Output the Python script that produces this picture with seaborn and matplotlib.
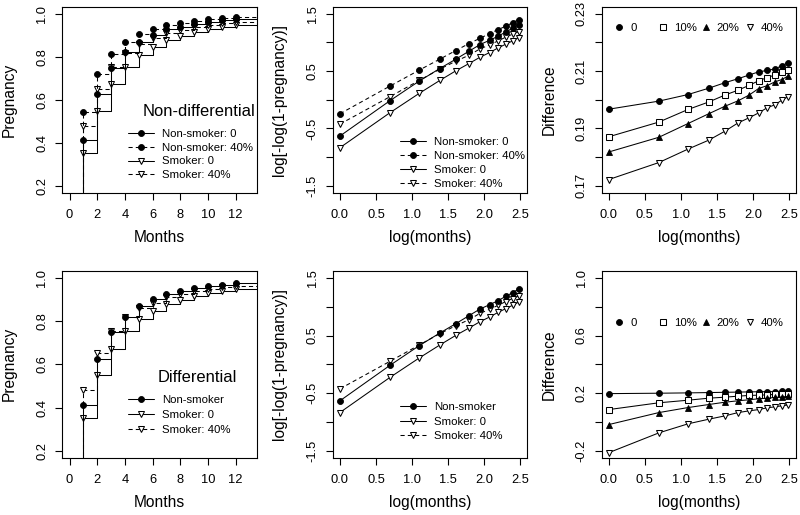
import matplotlib
matplotlib.use("Agg")
import matplotlib.pyplot as plt
import seaborn as sns
import numpy as np
from matplotlib.lines import Line2D

# ---------------- data ----------------
months = [0, 1, 2, 3, 4, 5, 6, 7, 8, 9, 10, 11, 12]
preg_nonsmoker_0 = [0.0, 0.412, 0.625, 0.749, 0.821, 0.868, 0.902, 0.927, 0.940, 0.951, 0.961, 0.969, 0.975]
preg_nonsmoker_40 = [0.0, 0.543, 0.718, 0.812, 0.868, 0.905, 0.930, 0.946, 0.958, 0.966, 0.973, 0.978, 0.982]
preg_smoker_0 = [0.0, 0.352, 0.549, 0.672, 0.753, 0.809, 0.847, 0.877, 0.897, 0.915, 0.928, 0.938, 0.948]
preg_smoker_40 = [0.0, 0.480, 0.651, 0.753, 0.818, 0.859, 0.886, 0.911, 0.926, 0.938, 0.949, 0.956, 0.962]

log_months = [0.0, 0.693, 1.099, 1.386, 1.609, 1.792, 1.946, 2.079, 2.197, 2.303, 2.398, 2.485]
cll_nonsmoker_0 = [-0.633, -0.019, 0.323, 0.543, 0.706, 0.845, 0.961, 1.036, 1.106, 1.181, 1.245, 1.309]
cll_nonsmoker_40 = [-0.245, 0.236, 0.514, 0.706, 0.857, 0.978, 1.071, 1.152, 1.222, 1.280, 1.343, 1.396]
cll_smoker_0 = [-0.836, -0.228, 0.109, 0.335, 0.503, 0.630, 0.741, 0.822, 0.903, 0.967, 1.025, 1.083]
cll_smoker_40 = [-0.425, 0.051, 0.335, 0.532, 0.671, 0.775, 0.886, 0.955, 1.025, 1.090, 1.142, 1.187]

diff_nd_0 = [0.1967, 0.1995, 0.2018, 0.2040, 0.2059, 0.2073, 0.2086, 0.2097, 0.2102, 0.2107, 0.2118, 0.2129]
diff_nd_10 = [0.1871, 0.1922, 0.1966, 0.1992, 0.2016, 0.2033, 0.2050, 0.2066, 0.2077, 0.2086, 0.2095, 0.2105]
diff_nd_20 = [0.1818, 0.1869, 0.1917, 0.1951, 0.1977, 0.1996, 0.2016, 0.2039, 0.2049, 0.2062, 0.2070, 0.2082]
diff_nd_40 = [0.1722, 0.1781, 0.1828, 0.1859, 0.1890, 0.1919, 0.1937, 0.1954, 0.1972, 0.1982, 0.1998, 0.2010]

diff_d_0 = [0.1967, 0.1995, 0.2018, 0.2040, 0.2059, 0.2073, 0.2086, 0.2097, 0.2102, 0.2107, 0.2118, 0.2129]
diff_d_10 = [0.086, 0.133, 0.151, 0.165, 0.172, 0.179, 0.184, 0.186, 0.188, 0.191, 0.193, 0.195]
diff_d_20 = [-0.018, 0.065, 0.100, 0.121, 0.137, 0.147, 0.154, 0.161, 0.165, 0.170, 0.174, 0.177]
diff_d_40 = [-0.213, -0.076, -0.013, 0.019, 0.042, 0.065, 0.077, 0.086, 0.098, 0.105, 0.112, 0.118]

month_ticks = [0, 2, 4, 6, 8, 10, 12]
preg_ticks = [0.2, 0.4, 0.6, 0.8, 1.0]
preg_ticklabels = ["0.2", "0.4", "0.6", "0.8", "1.0"]
logm_ticks = [0.0, 0.5, 1.0, 1.5, 2.0, 2.5]
logm_ticklabels = ["0.0", "0.5", "1.0", "1.5", "2.0", "2.5"]
cll_ticks = [-1.5, -1.0, -0.5, 0.0, 0.5, 1.0, 1.5]
cll_ticklabels = ["-1.5", "", "-0.5", "", "0.5", "", "1.5"]
dnd_ticks = [0.17, 0.18, 0.19, 0.20, 0.21, 0.22, 0.23]
dnd_ticklabels = ["0.17", "", "0.19", "", "0.21", "", "0.23"]
dd_ticks = [-0.2, 0.0, 0.2, 0.4, 0.6, 0.8, 1.0]
dd_ticklabels = ["-0.2", "", "0.2", "", "0.6", "", "1.0"]

# ---------------- style ----------------
sns.set_theme(style="ticks")
plt.rcParams["font.family"] = ["Liberation Sans", "DejaVu Sans"]
plt.rcParams["axes.edgecolor"] = "black"
plt.rcParams["axes.linewidth"] = 0.8
plt.rcParams["xtick.color"] = "black"
plt.rcParams["ytick.color"] = "black"
plt.rcParams["text.color"] = "black"
plt.rcParams["axes.labelcolor"] = "black"

LW = 0.75
DASH = (0, (4, 3))
TICK_FS = 9.3
LAB_FS = 11.2
LEG_FS = 8.2

fig = plt.figure(figsize=(8, 5.15), dpi=100)
lefts = [0.0779, 0.4159, 0.7521]
W = 0.2431
rows = [(0.6258, 0.3612), (0.1113, 0.3625)]
axes = [[fig.add_axes([l, b, W, h]) for l in lefts] for (b, h) in rows]


def style(ax, xlim, ylim, xt, xtl, yt, ytl, xlabel, ylabel):
    ax.set_xlim(*xlim)
    ax.set_ylim(*ylim)
    ax.set_xticks(xt)
    ax.set_xticklabels(xtl, fontsize=TICK_FS)
    ax.set_yticks(yt)
    ax.set_yticklabels(ytl, fontsize=TICK_FS)
    for t in ax.get_yticklabels():
        t.set_rotation(90)
        t.set_va("center")
    ax.tick_params(axis="both", direction="out", length=5, width=0.8)
    ax.tick_params(axis="x", pad=6.5)
    ax.tick_params(axis="y", pad=5)
    ax.set_xlabel(xlabel, fontsize=LAB_FS, labelpad=7)
    ax.set_ylabel(ylabel, fontsize=LAB_FS, labelpad=14)
    for s in ax.spines.values():
        s.set_visible(True)
        s.set_color("black")
        s.set_linewidth(0.8)


def kind_kw(kind):
    if kind == "dot":
        return dict(marker="o", markersize=4.3, markerfacecolor="black",
                    markeredgecolor="black", markeredgewidth=0.6)
    if kind == "tri":
        return dict(marker="v", markersize=5.0, markerfacecolor="white",
                    markeredgecolor="black", markeredgewidth=0.75)
    if kind == "sq":
        return dict(marker="s", markersize=3.8, markerfacecolor="white",
                    markeredgecolor="black", markeredgewidth=0.75)
    if kind == "tri_up":
        return dict(marker="^", markersize=4.6, markerfacecolor="black",
                    markeredgecolor="black", markeredgewidth=0.6)


def step_panel(ax, series, xlim):
    x_end = xlim[1] + 1
    for vals, ls, kind in series:
        xs = months + [x_end]
        ys = vals + [vals[-1]]
        sns.lineplot(x=xs, y=ys, ax=ax, color="black", linewidth=LW,
                     linestyle=ls, drawstyle="steps-post", sort=False,
                     estimator=None)
        k = kind_kw(kind)
        ax.plot(months[1:], vals[1:], linestyle="none", **k)


def line_panel(ax, series):
    for vals, ls, kind in series:
        k = kind_kw(kind)
        sns.lineplot(x=log_months, y=vals, ax=ax, color="black", linewidth=LW,
                     linestyle=ls, sort=False, estimator=None, **k)


def legend_lines(ax, entries, xf, yf, spacing):
    handles = []
    labels = []
    for lab, ls, kind in entries:
        handles.append(Line2D([], [], color="black", linewidth=LW, linestyle=ls, **kind_kw(kind)))
        labels.append(lab)
    ax.legend(handles, labels, loc="center left", bbox_to_anchor=(xf, yf),
              frameon=False, fontsize=LEG_FS, handlelength=2.3, handletextpad=0.65,
              labelspacing=spacing, borderpad=0, borderaxespad=0, numpoints=1)


def legend_horiz(ax, entries, xcenters, yf):
    fs_px = LEG_FS * 100 / 72
    ax_w_px = W * 800
    half = 0.5 * 1.0 * fs_px / ax_w_px
    legs = []
    for (lab, kind), xc in zip(entries, xcenters):
        h = Line2D([], [], linestyle="none", **kind_kw(kind))
        leg = ax.legend([h], [lab], loc="center left", bbox_to_anchor=(xc - half, yf),
                        frameon=False, fontsize=LEG_FS, handlelength=1.0,
                        handletextpad=0.45, borderpad=0, borderaxespad=0, numpoints=1)
        legs.append(leg)
    for leg in legs[:-1]:
        ax.add_artist(leg)


month_xlim = (-0.52, 13.52)
logm_xlim = (-0.1, 2.6)

# ---- Panel 1: Non-differential survival ----
ax = axes[0][0]
step_panel(ax, [
    (preg_smoker_0, "-", "tri"),
    (preg_smoker_40, DASH, "tri"),
    (preg_nonsmoker_0, "-", "dot"),
    (preg_nonsmoker_40, DASH, "dot"),
], month_xlim)
style(ax, month_xlim, (0.168, 1.032), month_ticks, [str(m) for m in month_ticks],
      preg_ticks, preg_ticklabels, "Months", "Pregnancy")
ax.text(0.703, 0.439, "Non-differential", transform=ax.transAxes, ha="center",
        va="center", fontsize=11.9)
legend_lines(ax, [("Non-smoker: 0", "-", "dot"), ("Non-smoker: 40%", DASH, "dot"),
                  ("Smoker: 0", "-", "tri"), ("Smoker: 40%", DASH, "tri")],
             0.338, 0.2045, 0.32)

# ---- Panel 2: Non-differential cloglog ----
ax = axes[0][1]
line_panel(ax, [
    (cll_smoker_0, "-", "tri"),
    (cll_smoker_40, DASH, "tri"),
    (cll_nonsmoker_0, "-", "dot"),
    (cll_nonsmoker_40, DASH, "dot"),
])
style(ax, logm_xlim, (-1.62, 1.62), logm_ticks, logm_ticklabels,
      cll_ticks, cll_ticklabels, "log(months)", "log[-log(1-pregnancy)]")
legend_lines(ax, [("Non-smoker: 0", "-", "dot"), ("Non-smoker: 40%", DASH, "dot"),
                  ("Smoker: 0", "-", "tri"), ("Smoker: 40%", DASH, "tri")],
             0.347, 0.160, 0.35)

# ---- Panel 3: Non-differential difference ----
ax = axes[0][2]
line_panel(ax, [
    (diff_nd_0, "-", "dot"),
    (diff_nd_10, "-", "sq"),
    (diff_nd_20, "-", "tri_up"),
    (diff_nd_40, "-", "tri"),
])
style(ax, logm_xlim, (0.1676, 0.2324), logm_ticks, logm_ticklabels,
      dnd_ticks, dnd_ticklabels, "log(months)", "Difference")
legend_horiz(ax, [("0", "dot"), ("10%", "sq"), ("20%", "tri_up"), ("40%", "tri")],
             [0.091, 0.316, 0.535, 0.763], 0.884)

# ---- Panel 4: Differential survival ----
ax = axes[1][0]
step_panel(ax, [
    (preg_smoker_0, "-", "tri"),
    (preg_smoker_40, DASH, "tri"),
    (preg_nonsmoker_0, "-", "dot"),
], month_xlim)
style(ax, month_xlim, (0.168, 1.032), month_ticks, [str(m) for m in month_ticks],
      preg_ticks, preg_ticklabels, "Months", "Pregnancy")
ax.text(0.695, 0.429, "Differential", transform=ax.transAxes, ha="center",
        va="center", fontsize=11.9)
legend_lines(ax, [("Non-smoker", "-", "dot"), ("Smoker: 0", "-", "tri"),
                  ("Smoker: 40%", DASH, "tri")],
             0.338, 0.2285, 0.4)

# ---- Panel 5: Differential cloglog ----
ax = axes[1][1]
line_panel(ax, [
    (cll_smoker_0, "-", "tri"),
    (cll_smoker_40, DASH, "tri"),
    (cll_nonsmoker_0, "-", "dot"),
])
style(ax, logm_xlim, (-1.62, 1.62), logm_ticks, logm_ticklabels,
      cll_ticks, cll_ticklabels, "log(months)", "log[-log(1-pregnancy)]")
legend_lines(ax, [("Non-smoker", "-", "dot"), ("Smoker: 0", "-", "tri"),
                  ("Smoker: 40%", DASH, "tri")],
             0.347, 0.1935, 0.4)

# ---- Panel 6: Differential difference ----
ax = axes[1][2]
line_panel(ax, [
    (diff_d_0, "-", "dot"),
    (diff_d_10, "-", "sq"),
    (diff_d_20, "-", "tri_up"),
    (diff_d_40, "-", "tri"),
])
style(ax, logm_xlim, (-0.248, 1.048), logm_ticks, logm_ticklabels,
      dd_ticks, dd_ticklabels, "log(months)", "Difference")
legend_horiz(ax, [("0", "dot"), ("10%", "sq"), ("20%", "tri_up"), ("40%", "tri")],
             [0.091, 0.316, 0.535, 0.763], 0.72)

fig.savefig("out.png", dpi=100, facecolor="white")
